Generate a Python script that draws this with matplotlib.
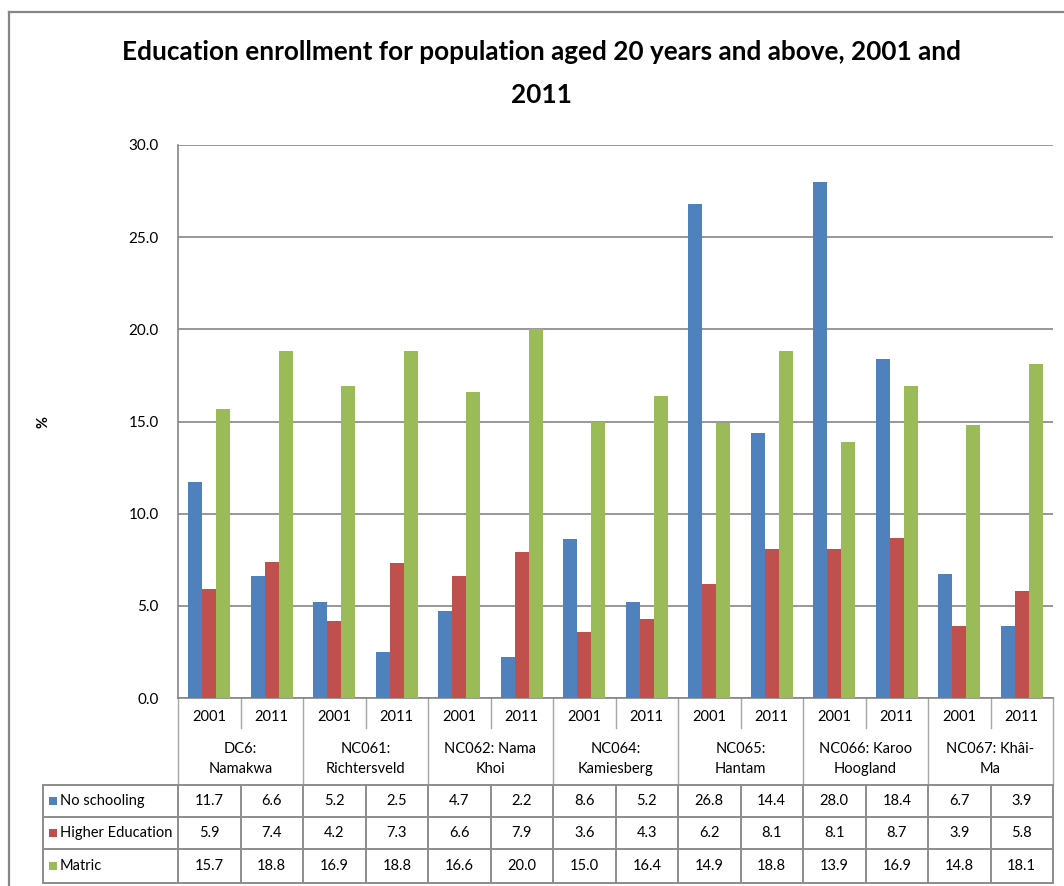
import matplotlib
matplotlib.use("Agg")
import matplotlib.pyplot as plt
from matplotlib.transforms import blended_transform_factory
from matplotlib.lines import Line2D
import numpy as np

# ---- data ----
years = ["2001", "2011"] * 7
groups = ["DC6:\nNamakwa", "NC061:\nRichtersveld", "NC062: Nama\nKhoi",
          "NC064:\nKamiesberg", "NC065:\nHantam", "NC066: Karoo\nHoogland",
          "NC067: Khâi-\nMa"]
series_names = ["No schooling", "Higher Education", "Matric"]
no_schooling = [11.7, 6.6, 5.2, 2.5, 4.7, 2.2, 8.6, 5.2, 26.8, 14.4, 28.0, 18.4, 6.7, 3.9]
higher_education = [5.9, 7.4, 4.2, 7.3, 6.6, 7.9, 3.6, 4.3, 6.2, 8.1, 8.1, 8.7, 3.9, 5.8]
matric = [15.7, 18.8, 16.9, 18.8, 16.6, 20.0, 15.0, 16.4, 14.9, 18.8, 13.9, 16.9, 14.8, 18.1]
yticks = [0, 5, 10, 15, 20, 25, 30]

series = [no_schooling, higher_education, matric]
colors = ["#4F81BD", "#C0504D", "#9BBB59"]

FONT = ["Lato", "DejaVu Sans"]
plt.rcParams["font.family"] = FONT

W, H = 1064, 886
fig = plt.figure(figsize=(W / 100, H / 100), dpi=100)


def fx(px):
    return px / W


def fy(py):
    return 1 - py / H


# plot area
left, right, top, bottom = 178, 1053, 145, 698
ax = fig.add_axes([fx(left), fy(bottom), fx(right - left), (bottom - top) / H])

n = len(years)
x = np.arange(n)
bw = 0.224
for k, (vals, c) in enumerate(zip(series, colors)):
    ax.bar(x + (k - 1) * bw, vals, width=bw, color=c, zorder=3, linewidth=0)

ax.set_xlim(-0.5, n - 0.5)
ax.set_ylim(0, 30)
ax.set_yticks(yticks)
ax.set_yticklabels([f"{v:.1f}" for v in yticks], fontsize=11)
ax.tick_params(axis="y", length=0, pad=14)
ax.set_xticks([])
ax.grid(axis="y", color="#868686", linewidth=1.2, zorder=0)
for s in ["top", "right"]:
    ax.spines[s].set_visible(False)
for s in ["left", "bottom"]:
    ax.spines[s].set_color("#868686")
    ax.spines[s].set_linewidth(1.2)

# y-axis label placed in figure coordinates
fig.text(fx(43), fy(422), "%", rotation=90, ha="center", va="center",
         fontsize=10.5, fontweight="bold")

# title
fig.text(fx(541), fy(52), "Education enrollment for population aged 20 years and above, 2001 and",
         ha="center", va="center", fontsize=18.8, fontweight="bold")
fig.text(fx(541), fy(95), "2011", ha="center", va="center", fontsize=18.8, fontweight="bold")

# outer chart border
fig.add_artist(Line2D([fx(9), fx(1070)], [fy(12), fy(12)], transform=fig.transFigure,
                      color="#868686", linewidth=1.6))
fig.add_artist(Line2D([fx(9), fx(9)], [fy(12), fy(900)], transform=fig.transFigure,
                      color="#868686", linewidth=1.6))

# data table under the axis
tr = blended_transform_factory(ax.transData, fig.transFigure)
light = "#A6A6A6"
dark = "#8C8C8C"


def vline(xd, y0, y1, color, lw):
    ax.add_line(Line2D([xd, xd], [fy(y0), fy(y1)], transform=tr, color=color,
                       linewidth=lw, clip_on=False))


row_top = 785
row_ys = [785, 817, 849, 883]

# header column lines
vline(-0.5, bottom, row_top, light, 1.0)
for g in range(len(groups)):
    vline(2 * g + 1.5, bottom, row_top, light, 1.0)
    vline(2 * g + 0.5, bottom, 728, light, 1.0)

# data row lines
for i in range(n + 1):
    vline(i - 0.5, row_top, row_ys[-1], dark, 1.4)
fig.add_artist(Line2D([fx(43), fx(43)], [fy(row_top), fy(row_ys[-1])],
                      transform=fig.transFigure, color=dark, linewidth=1.4))
for yy in row_ys:
    fig.add_artist(Line2D([fx(43), fx(right)], [fy(yy), fy(yy)],
                          transform=fig.transFigure, color=dark, linewidth=1.4))

# header texts
for i, yr in enumerate(years):
    ax.text(i, fy(717), yr, transform=tr, ha="center", va="center", fontsize=10.5)
for g, name in enumerate(groups):
    ax.text(2 * g + 0.5, fy(759), name, transform=tr, ha="center", va="center",
            fontsize=10.5, linespacing=1.55)

# value rows and legend keys
row_centers = [801, 833, 866]
for vals, name, c, yc in zip(series, series_names, colors, row_centers):
    for i, v in enumerate(vals):
        ax.text(i, fy(yc), f"{v:.1f}", transform=tr, ha="center", va="center", fontsize=10.5)
    fig.add_artist(plt.Rectangle((fx(49), fy(yc + 4)), fx(8), 8 / H,
                                 transform=fig.transFigure, color=c, linewidth=0))
    fig.text(fx(60), fy(yc), name, ha="left", va="center", fontsize=10.5)

fig.savefig("out.png", dpi=100, facecolor="white")
